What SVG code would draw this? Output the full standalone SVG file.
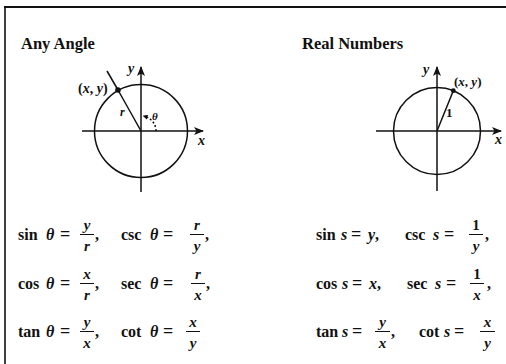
<svg xmlns="http://www.w3.org/2000/svg" width="506" height="364" viewBox="0 0 506 364">
<defs>
<style>
.t{font-family:"Liberation Serif","Times New Roman",serif;font-weight:bold;font-size:16px;fill:#111}
.i{font-style:italic}
.f{font-size:15px;text-anchor:middle}
.eq{font-size:18px}
.ln{stroke:#111;fill:none;stroke-width:1.5}
.bar{stroke:#111;stroke-width:1}
</style>
<marker id="arr" viewBox="0 0 10 8" refX="9" refY="4" markerWidth="10" markerHeight="8" markerUnits="userSpaceOnUse" orient="auto">
<path d="M0,0 L10,4 L0,8 L2.5,4 Z" fill="#111"/>
</marker>
<marker id="arrs" viewBox="0 0 6 6" refX="3" refY="3" markerWidth="5" markerHeight="5" markerUnits="userSpaceOnUse" orient="auto">
<path d="M0,0 L6,3 L0,6 Z" fill="#111"/>
</marker>
</defs>
<rect width="506" height="364" fill="#fff"/>
<g id="frame" stroke="#111" fill="none">
<line x1="4" y1="7" x2="506" y2="7" stroke-width="2"/>
<line x1="5" y1="6" x2="5" y2="364" stroke-width="1.6"/>
</g>
<g id="titles" class="t" style="font-size:16.5px">
<text x="21" y="49">Any Angle</text>
<text x="302" y="49">Real Numbers</text>
</g>
<g id="diagram-any-angle">
<circle cx="141" cy="131" r="46.5" class="ln"/>
<line x1="82" y1="131" x2="203" y2="131" class="ln" stroke-width="1.3" marker-end="url(#arr)"/>
<line x1="141" y1="192" x2="141" y2="67" class="ln" marker-end="url(#arr)"/>
<line x1="141" y1="131" x2="118" y2="90" class="ln" stroke-width="2.4"/>
<line x1="118" y1="90" x2="107" y2="71" class="ln" stroke-width="1.2"/>
<circle cx="118" cy="90" r="2.8" fill="#111"/>
<path d="M156,131 A15,15 0 0 0 145,116.5" class="ln" stroke-width="1" stroke-dasharray="2,2" marker-end="url(#arrs)"/>
<text x="78" y="93" class="t" style="font-size:14px">(<tspan class="i">x</tspan>, <tspan class="i">y</tspan>)</text>
<text x="128" y="73" class="t i" style="font-size:14px">y</text>
<text x="198" y="145" class="t i" style="font-size:14px">x</text>
<text x="120" y="116" class="t i" style="font-size:12px">r</text>
<text x="152" y="120" class="t i" style="font-size:11px">θ</text>
</g>
<g id="diagram-real-numbers">
<circle cx="437" cy="131" r="43.5" class="ln"/>
<line x1="376" y1="131" x2="501" y2="131" class="ln" stroke-width="1.3" marker-end="url(#arr)"/>
<line x1="437" y1="191" x2="437" y2="67" class="ln" marker-end="url(#arr)"/>
<line x1="437" y1="131" x2="453.3" y2="90.7" class="ln" stroke-width="1.6"/>
<circle cx="453.3" cy="90.7" r="2.4" fill="#111"/>
<text x="454" y="86" class="t" style="font-size:13px">(<tspan class="i">x</tspan>, <tspan class="i">y</tspan>)</text>
<text x="423" y="74" class="t i" style="font-size:14px">y</text>
<text x="495" y="144" class="t i" style="font-size:14px">x</text>
<text x="446" y="117" class="t" style="font-size:13px">1</text>
</g>
<g id="formulas-any-angle" class="t">
<text x="18" y="240">sin</text><text x="46" y="240" class="i">θ</text><text x="60" y="240" class="eq">=</text>
<line x1="80" y1="234.5" x2="94" y2="234.5" class="bar"/><text x="87" y="230" class="f i">y</text><text x="87" y="251" class="f i">r</text><text x="95" y="240">,</text>
<text x="121" y="240">csc</text><text x="150" y="240" class="i">θ</text><text x="163" y="240" class="eq">=</text>
<line x1="190" y1="234.5" x2="204" y2="234.5" class="bar"/><text x="197" y="230" class="f i">r</text><text x="197" y="251" class="f i">y</text><text x="205" y="240">,</text>

<text x="18" y="289">cos</text><text x="46" y="289" class="i">θ</text><text x="60" y="289" class="eq">=</text>
<line x1="80" y1="283.5" x2="94" y2="283.5" class="bar"/><text x="87" y="279" class="f i">x</text><text x="87" y="300" class="f i">r</text><text x="95" y="289">,</text>
<text x="121" y="289">sec</text><text x="150" y="289" class="i">θ</text><text x="163" y="289" class="eq">=</text>
<line x1="191" y1="283.5" x2="205" y2="283.5" class="bar"/><text x="198" y="279" class="f i">r</text><text x="198" y="300" class="f i">x</text><text x="206" y="289">,</text>

<text x="18" y="337">tan</text><text x="46" y="337" class="i">θ</text><text x="60" y="337" class="eq">=</text>
<line x1="80" y1="331.5" x2="94" y2="331.5" class="bar"/><text x="87" y="327" class="f i">y</text><text x="87" y="348" class="f i">x</text><text x="95" y="337">,</text>
<text x="121" y="337">cot</text><text x="150" y="337" class="i">θ</text><text x="163" y="337" class="eq">=</text>
<line x1="186" y1="331.5" x2="200" y2="331.5" class="bar"/><text x="193" y="327" class="f i">x</text><text x="193" y="348" class="f i">y</text>
</g>
<g id="formulas-real-numbers" class="t">
<text x="316" y="240">sin</text><text x="341" y="240" class="i">s</text><text x="351" y="240" class="eq">=</text><text x="368" y="240"><tspan class="i">y</tspan>,</text>
<text x="405" y="240">csc</text><text x="433" y="240" class="i">s</text><text x="444" y="240" class="eq">=</text>
<line x1="469" y1="234.5" x2="483" y2="234.5" class="bar"/><text x="476" y="230" class="f">1</text><text x="476" y="251" class="f i">y</text><text x="485" y="240">,</text>

<text x="316" y="289">cos</text><text x="342" y="289" class="i">s</text><text x="352" y="289" class="eq">=</text><text x="369" y="289"><tspan class="i">x</tspan>,</text>
<text x="407" y="289">sec</text><text x="435" y="289" class="i">s</text><text x="446" y="289" class="eq">=</text>
<line x1="470" y1="283.5" x2="484" y2="283.5" class="bar"/><text x="477" y="279" class="f">1</text><text x="477" y="300" class="f i">x</text><text x="487" y="289">,</text>

<text x="316" y="337">tan</text><text x="342" y="337" class="i">s</text><text x="352" y="337" class="eq">=</text>
<line x1="375" y1="331.5" x2="390" y2="331.5" class="bar"/><text x="382.5" y="327" class="f i">y</text><text x="382.5" y="348" class="f i">x</text><text x="391" y="337">,</text>
<text x="419" y="337">cot</text><text x="444" y="337" class="i">s</text><text x="454" y="337" class="eq">=</text>
<line x1="480" y1="331.5" x2="495" y2="331.5" class="bar"/><text x="487.5" y="327" class="f i">x</text><text x="487.5" y="348" class="f i">y</text>
</g>
</svg>
